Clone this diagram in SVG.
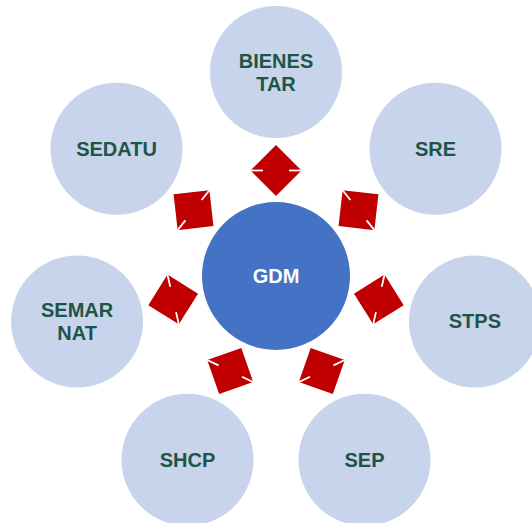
<svg xmlns="http://www.w3.org/2000/svg" xmlns:xlink="http://www.w3.org/1999/xlink" width="532" height="523" viewBox="0 0 532 523">
<style>
.outer{fill:#C8D4EC;}
.center{fill:#4472C4;}
.lbl{font-family:"Liberation Sans",Arial,sans-serif;font-weight:bold;font-size:20px;fill:#1E5546;text-anchor:middle;}
.clbl{font-family:"Liberation Sans",Arial,sans-serif;font-weight:bold;font-size:20px;fill:#FFFFFF;text-anchor:middle;}
.arr{fill:#C00000;}
.tick{stroke:#FFFFFF;stroke-width:1.8;}
</style>
<defs>
<g id="arrow">
<polygon class="arr" points="276,145 301.5,170.5 276,196 250.5,170.5"/>
<line class="tick" x1="250.5" y1="170.5" x2="263" y2="170.5"/>
<line class="tick" x1="289" y1="170.5" x2="301.5" y2="170.5"/>
</g>
</defs>
<rect width="532" height="523" fill="#FFFFFF"/>
<g id="connectors">
<use xlink:href="#arrow" transform="rotate(0 276 276)"/>
<use xlink:href="#arrow" transform="rotate(51.4286 276 276)"/>
<use xlink:href="#arrow" transform="rotate(102.8571 276 276)"/>
<use xlink:href="#arrow" transform="rotate(154.2857 276 276)"/>
<use xlink:href="#arrow" transform="rotate(205.7143 276 276)"/>
<use xlink:href="#arrow" transform="rotate(257.1429 276 276)"/>
<use xlink:href="#arrow" transform="rotate(308.5714 276 276)"/>
</g>
<g id="node-gdm">
<circle class="center" cx="276" cy="276" r="74"/>
<text class="clbl" x="276" y="283">GDM</text>
</g>
<g id="node-bienestar">
<circle class="outer" cx="276" cy="72" r="66"/>
<text class="lbl" x="276" y="68">BIENES</text>
<text class="lbl" x="276" y="91">TAR</text>
</g>
<g id="node-sre">
<circle class="outer" cx="435.5" cy="148.8" r="66"/>
<text class="lbl" x="435.5" y="156">SRE</text>
</g>
<g id="node-stps">
<circle class="outer" cx="474.9" cy="321.4" r="66"/>
<text class="lbl" x="474.9" y="328">STPS</text>
</g>
<g id="node-sep">
<circle class="outer" cx="364.5" cy="459.8" r="66"/>
<text class="lbl" x="364.5" y="467">SEP</text>
</g>
<g id="node-shcp">
<circle class="outer" cx="187.5" cy="459.8" r="66"/>
<text class="lbl" x="187.5" y="467">SHCP</text>
</g>
<g id="node-semarnat">
<circle class="outer" cx="77.1" cy="321.4" r="66"/>
<text class="lbl" x="77.1" y="317">SEMAR</text>
<text class="lbl" x="77.1" y="340">NAT</text>
</g>
<g id="node-sedatu">
<circle class="outer" cx="116.5" cy="148.8" r="66"/>
<text class="lbl" x="116.5" y="156">SEDATU</text>
</g>
</svg>
